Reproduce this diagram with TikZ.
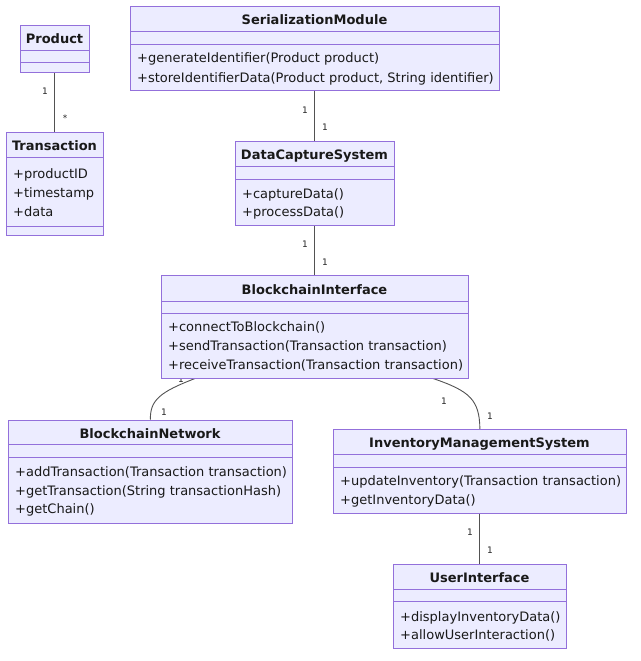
\documentclass[tikz,border=0pt]{standalone}
\usepackage{fontspec}
\setmainfont{DejaVu Sans}
\usetikzlibrary{backgrounds}
\definecolor{mBorder}{RGB}{147,112,219}
\definecolor{mFill}{RGB}{236,236,255}
\definecolor{mLine}{RGB}{51,51,51}

\begin{document}
\begin{tikzpicture}[x=1pt, y=-1pt,
  cls/.style={draw=mBorder, fill=mFill, line width=0.8pt, anchor=north west, inner sep=0pt},
  sep/.style={draw=mBorder, line width=0.8pt},
  ttl/.style={font=\fontsize{13}{15}\selectfont\bfseries, inner sep=0pt, text height=13pt, text depth=3pt, yshift=-0.7pt, text=black!90},
  mbr/.style={font=\fontsize{13}{15}\selectfont, anchor=west, inner sep=0pt, text height=13pt, text depth=3pt, text=black!90},
  link/.style={draw=mLine!85, line width=0.9pt},
  card/.style={font=\fontsize{9}{10}\selectfont, inner sep=0pt, text=black!85}]
  \useasboundingbox (0,0) rectangle (640,661);

  % Product
  \node[cls, minimum width=69pt, minimum height=47pt] (product) at (20,25) {};
  \node[ttl] (productT) at (54.5,37.5) {Product};
  \draw[sep] (20,50) -- (89,50);
  \draw[sep] (20,62) -- (89,62);

  % Transaction
  \node[cls, minimum width=97pt, minimum height=103pt] (transaction) at (6,131.5) {};
  \node[ttl] (transactionT) at (54.5,144.5) {Transaction};
  \draw[sep] (6,157) -- (103,157);
  \draw[sep] (6,226) -- (103,226);
  \foreach \y/\txt in {173/+productID, 192/+timestamp, 211/+data}
    \node[mbr] at (13,\y) {\txt};

  % SerializationModule
  \node[cls, minimum width=369pt, minimum height=84pt] (serial) at (130,6) {};
  \node[ttl] (serialT) at (314.5,19) {SerializationModule};
  \draw[sep] (130,31.5) -- (499,31.5);
  \draw[sep] (130,44) -- (499,44);
  \foreach \y/\txt in {58/{+generateIdentifier(Product product)},
                       77/{+storeIdentifierData(Product product, String identifier)}}
    \node[mbr] at (137,\y) {\txt};

  % DataCaptureSystem
  \node[cls, minimum width=159pt, minimum height=84pt] (capture) at (235,141) {};
  \node[ttl] (captureT) at (314.5,154) {DataCaptureSystem};
  \draw[sep] (235,166.5) -- (394,166.5);
  \draw[sep] (235,179) -- (394,179);
  \foreach \y/\txt in {193/+captureData(), 211/+processData()}
    \node[mbr] at (242,\y) {\txt};

  % BlockchainInterface
  \node[cls, minimum width=307pt, minimum height=103pt] (bcif) at (161,275) {};
  \node[ttl] (bcifT) at (314.5,289) {BlockchainInterface};
  \draw[sep] (161,301) -- (468,301);
  \draw[sep] (161,313.5) -- (468,313.5);
  \foreach \y/\txt in {326/+connectToBlockchain(),
                       345/{+sendTransaction(Transaction transaction)},
                       364/{+receiveTransaction(Transaction transaction)}}
    \node[mbr] at (168,\y) {\txt};

  % BlockchainNetwork
  \node[cls, minimum width=284pt, minimum height=103pt] (bcnet) at (8,419.5) {};
  \node[ttl] (bcnetT) at (150,433) {BlockchainNetwork};
  \draw[sep] (8,444.5) -- (292,444.5);
  \draw[sep] (8,457) -- (292,457);
  \foreach \y/\txt in {471/{+addTransaction(Transaction transaction)},
                       490/{+getTransaction(String transactionHash)},
                       508/+getChain()}
    \node[mbr] at (15,\y) {\txt};

  % InventoryManagementSystem
  \node[cls, minimum width=293pt, minimum height=84pt] (invent) at (333,429) {};
  \node[ttl] (inventT) at (479.5,442) {InventoryManagementSystem};
  \draw[sep] (333,454.5) -- (626,454.5);
  \draw[sep] (333,467) -- (626,467);
  \foreach \y/\txt in {480/{+updateInventory(Transaction transaction)},
                       499/+getInventoryData()}
    \node[mbr] at (340,\y) {\txt};

  % UserInterface
  \node[cls, minimum width=173pt, minimum height=84pt] (userif) at (393,563.5) {};
  \node[ttl] (userifT) at (479.5,577) {UserInterface};
  \draw[sep] (393,589) -- (566,589);
  \draw[sep] (393,601.5) -- (566,601.5);
  \foreach \y/\txt in {616/+displayInventoryData(), 634/+allowUserInteraction()}
    \node[mbr] at (400,\y) {\txt};

  % associations
  \begin{scope}[on background layer]
    \draw[link] (product) -- (transaction);
    \draw[link] (serial) -- (capture);
    \draw[link] (capture) -- (bcif);
    \draw[link] (invent) -- (userif);
    \coordinate (bcifL) at (195,378.5);
    \coordinate (bcifR) at (433,378.5);
    \draw[link] (bcifL) .. controls (160,392) and (150,400) .. (bcnet.north);
    \draw[link] (bcifR) .. controls (470,391) and (479.5,400) .. (invent.north);
    \foreach \x/\y/\m in {45/91/1, 65/118/*, 305/110/1, 325/127/1,
                          305/244/1, 325/262/1, 181/379/1, 164/412/1,
                          444/401/1, 490/416/1, 470/532/1, 490/550/1}
      \node[card] at (\x,\y) {\m};
  \end{scope}
\end{tikzpicture}
\end{document}
